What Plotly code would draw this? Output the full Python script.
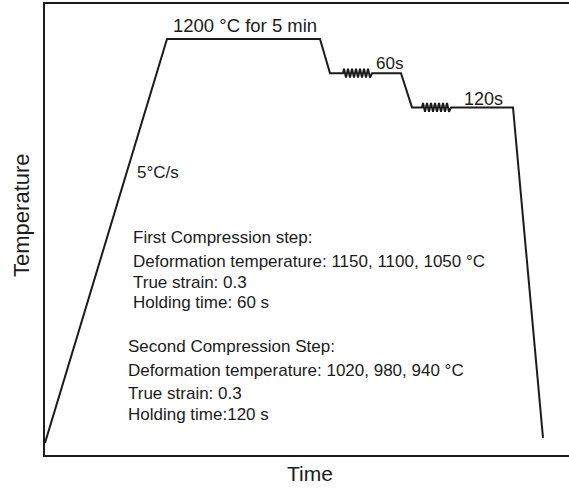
import plotly.graph_objects as go

# Thermal schedule (schematic time units, temperature in °C)
stage_time = [0, 122, 275, 285, 298, 327, 356, 367, 377, 408, 468, 498]
stage_temp = [20, 1200, 1200, 1100, 1100, 1100, 1100, 1000, 1000, 1000, 1000, 35]

# Zig-zag "spring" symbols marking the holding periods (time offset, temp offset)
spring_dt = [0, 1, 3, 5, 7, 9, 11, 13, 15, 17, 19, 21, 23, 25, 27, 29]
spring_dT = [0, 13, -13, 13, -13, 13, -13, 13, -13, 13, -13, 13, -13, 13, -13, 0]
spring_starts = [(298, 1100), (377, 1000)]

FONT = "Arial, Liberation Sans, sans-serif"
INK = "#1b1b1b"

def build_path():
    xs, ys = [], []
    spring_idx = {4: 0, 8: 1}
    for i, (t, T) in enumerate(zip(stage_time, stage_temp)):
        xs.append(t)
        ys.append(T)
        if i in spring_idx:
            t0, T0 = spring_starts[spring_idx[i]]
            for dt, dT in zip(spring_dt[1:], spring_dT[1:]):
                xs.append(t0 + dt)
                ys.append(T0 + dT)
    return xs, ys

px, py = build_path()

fig = go.Figure()
fig.add_trace(go.Scatter(x=px, y=py, mode="lines",
                         line=dict(color=INK, width=2), hoverinfo="skip",
                         showlegend=False))

labels = [
    (200, 1238, "1200 °C for 5 min", "center", 18.5),
    (344, 1127, "60s", "center", 17),
    (438, 1025, "120s", "center", 18),
    (90, 809, "5°C/s", "left", 17),
]
for x, y, txt, anc, sz in labels:
    fig.add_annotation(x=x, y=y, text=txt, showarrow=False, xanchor=anc,
                       yanchor="middle", font=dict(family=FONT, size=sz, color=INK))

block1 = ["First Compression step:",
          "Deformation temperature: 1150, 1100, 1050 °C",
          "True strain: 0.3",
          "Holding time: 60 s"]
block2 = ["Second Compression Step:",
          "Deformation temperature: 1020, 980, 940 °C",
          "True strain: 0.3",
          "Holding time:120 s"]
y1 = [619, 549, 488, 429]
y2 = [301, 231, 166, 102]
for txt, y in zip(block1, y1):
    fig.add_annotation(x=86, y=y, text=txt, showarrow=False, xanchor="left",
                       yanchor="middle", font=dict(family=FONT, size=17, color=INK))
for txt, y in zip(block2, y2):
    fig.add_annotation(x=81, y=y, text=txt, showarrow=False, xanchor="left",
                       yanchor="middle", font=dict(family=FONT, size=17, color=INK))

# Axis titles
fig.add_annotation(xref="paper", yref="paper", x=-0.046, y=0.532, text="Temperature",
                   textangle=-90, showarrow=False, xanchor="center", yanchor="middle",
                   font=dict(family=FONT, size=22, color=INK))
fig.add_annotation(xref="paper", yref="paper", x=0.505, y=-0.04, text="Time",
                   showarrow=False, xanchor="center", yanchor="middle",
                   font=dict(family=FONT, size=21, color=INK))

fig.update_layout(
    width=569, height=488,
    margin=dict(l=45, r=0, t=4, b=33),
    paper_bgcolor="white", plot_bgcolor="white",
    xaxis=dict(range=[0, 524], showticklabels=False, ticks="", showgrid=False,
               zeroline=False, showline=True, linecolor=INK, linewidth=2,
               mirror=True, fixedrange=True),
    yaxis=dict(range=[-15, 1302], showticklabels=False, ticks="", showgrid=False,
               zeroline=False, showline=True, linecolor=INK, linewidth=2,
               mirror=False, fixedrange=True),
)

fig.write_html("out.html")
